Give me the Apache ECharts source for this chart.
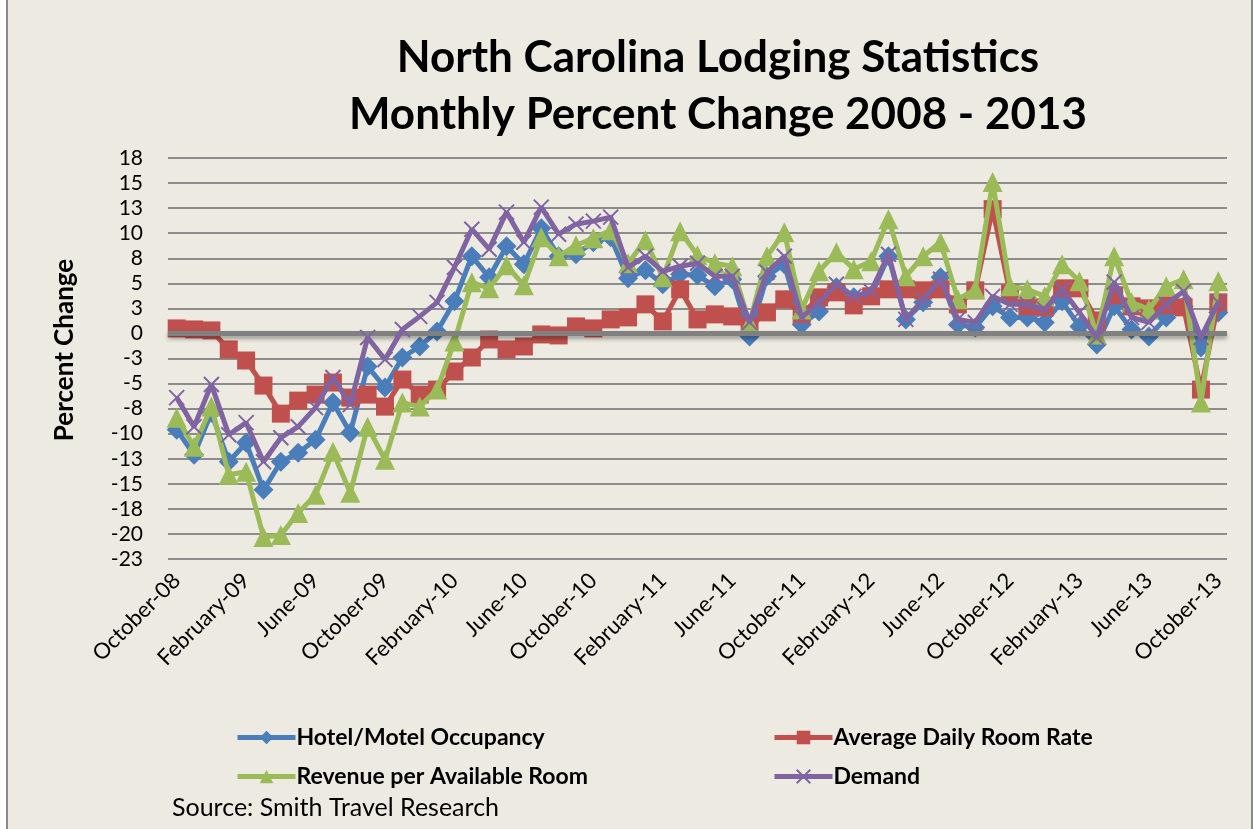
<!DOCTYPE html>
<html>
<head>
<meta charset="utf-8">
<title>North Carolina Lodging Statistics</title>
<script src="https://cdn.jsdelivr.net/npm/echarts@6/dist/echarts.min.js"></script>
<style>
  html, body { margin: 0; padding: 0; background: #ffffff; }
  #main { width: 1259px; height: 829px; }
</style>
</head>
<body>
<div id="main"></div>
<script>
// month labels, October 2008 .. October 2013
var months = [
  'October-08', 'November-08', 'December-08', 'January-09', 'February-09', 'March-09', 'April-09', 'May-09', 'June-09', 'July-09', 'August-09', 'September-09',
  'October-09', 'November-09', 'December-09', 'January-10', 'February-10', 'March-10', 'April-10', 'May-10', 'June-10', 'July-10', 'August-10', 'September-10',
  'October-10', 'November-10', 'December-10', 'January-11', 'February-11', 'March-11', 'April-11', 'May-11', 'June-11', 'July-11', 'August-11', 'September-11',
  'October-11', 'November-11', 'December-11', 'January-12', 'February-12', 'March-12', 'April-12', 'May-12', 'June-12', 'July-12', 'August-12', 'September-12',
  'October-12', 'November-12', 'December-12', 'January-13', 'February-13', 'March-13', 'April-13', 'May-13', 'June-13', 'July-13', 'August-13', 'September-13',
  'October-13'
]

var occupancy = [
  -9.6, -12.1, -7.9, -12.8, -10.9, -15.6, -12.8, -11.9, -10.6, -6.9, -9.9, -3.3,
  -5.4, -2.4, -1.3, 0.2, 3.2, 7.7, 5.6, 8.7, 6.9, 10.5, 7.7, 7.9,
  9.1, 9.6, 5.5, 6.3, 4.9, 5.9, 5.8, 4.7, 5.4, -0.3, 5.7, 6.9,
  0.9, 2.2, 4.6, 3.6, 3.8, 7.7, 1.4, 3.1, 5.6, 0.9, 0.6, 2.7,
  1.6, 1.6, 1.1, 3.2, 0.7, -1.1, 2.7, 0.4, -0.3, 1.6, 2.7, -1.4,
  2.1
]

var roomRate = [
  0.5, 0.4, 0.3, -1.6, -2.7, -5.2, -8.0, -6.7, -6.1, -4.9, -6.4, -6.1,
  -7.3, -4.6, -6.1, -5.6, -3.8, -2.4, -0.6, -1.6, -1.3, -0.1, -0.2, 0.7,
  0.5, 1.4, 1.6, 2.9, 1.2, 4.4, 1.4, 1.9, 1.7, 0.7, 2.1, 3.4,
  1.9, 3.6, 4.1, 2.8, 3.7, 4.4, 4.4, 4.3, 4.4, 2.9, 4.3, 12.4,
  4.0, 2.7, 2.6, 4.5, 4.5, 1.3, 3.8, 2.7, 2.5, 2.8, 2.6, -5.6,
  3.1
]

var revpar = [
  -8.4, -11.3, -7.3, -14.1, -13.8, -20.3, -20.1, -17.9, -16.1, -11.8, -15.9, -9.3,
  -12.6, -6.9, -7.3, -5.6, -0.8, 5.1, 4.5, 6.8, 4.8, 9.6, 7.7, 8.8,
  9.5, 10.3, 7.0, 9.3, 5.6, 10.2, 7.8, 7.0, 6.7, 1.0, 7.7, 10.1,
  2.4, 6.2, 8.1, 6.4, 7.2, 11.4, 5.7, 7.7, 9.1, 3.4, 4.4, 15.1,
  4.7, 4.4, 3.7, 6.9, 5.2, -0.1, 7.7, 3.1, 2.4, 4.7, 5.4, -6.9,
  5.2
]

var demand = [
  -6.4, -9.3, -5.1, -10.1, -8.9, -12.8, -10.4, -9.3, -7.4, -4.4, -7.1, -0.4,
  -2.6, 0.4, 1.7, 3.1, 6.6, 10.4, 8.4, 12.1, 9.1, 12.6, 9.9, 10.9,
  11.2, 11.6, 6.6, 7.7, 6.2, 6.7, 7.0, 5.7, 5.7, 1.1, 6.1, 7.7,
  1.6, 3.1, 4.9, 3.7, 4.2, 7.9, 1.4, 3.4, 5.4, 1.4, 1.1, 3.7,
  2.9, 2.9, 2.4, 4.4, 2.1, -0.4, 5.1, 1.6, 1.1, 2.9, 4.2, -0.4,
  3.1
]

var FONT = 'Lato, "Open Sans", sans-serif'
var BG = '#EDEBE1'

// excel style rounding for the axis labels (17.5 -> 18, -2.5 -> -3)
function roundLabel(v) {
  return String(Math.sign(v) * Math.round(Math.abs(v)))
}

function lineSeries(name, data, color, symbol, size, extra) {
  var s = {
    name: name,
    type: 'line',
    data: data,
    color: color,
    symbol: symbol,
    symbolSize: size,
    showAllSymbol: true,
    lineStyle: { width: 5, color: color },
    itemStyle: { color: color },
    emphasis: { disabled: true },
    animation: false
  }
  if (extra) {
    for (var k in extra) s[k] = extra[k]
  }
  return s
}

function legendAt(name, left, top) {
  return {
    data: [name],
    left: left,
    top: top,
    itemWidth: 58,
    itemHeight: 17,
    itemGap: 4,
    selectedMode: false,
    lineStyle: { width: 5 },
    textStyle: { fontFamily: FONT, fontWeight: 'bold', fontSize: 23, color: '#000', padding: [0, 0, 0, -4] }
  }
}

var chart = echarts.init(document.getElementById('main'))

var option = {
  backgroundColor: BG,
  animation: false,
  graphic: [
    // white margins and the chart frame
    { type: 'rect', shape: { x: 0, y: 0, width: 6, height: 829 }, style: { fill: '#ffffff' } },
    { type: 'rect', shape: { x: 1253, y: 0, width: 6, height: 829 }, style: { fill: '#ffffff' } },
    { type: 'rect', shape: { x: 6, y: 0, width: 2, height: 829 }, style: { fill: '#8a8a8a' } },
    { type: 'rect', shape: { x: 1251, y: 0, width: 2, height: 829 }, style: { fill: '#8a8a8a' } },
    {
      type: 'text', x: 718, y: 58,
      style: { text: 'North Carolina Lodging Statistics', font: 'bold 44px ' + FONT, fill: '#000', textAlign: 'center', textVerticalAlign: 'middle' }
    },
    {
      type: 'text', x: 718, y: 115,
      style: { text: 'Monthly Percent Change 2008 - 2013', font: 'bold 44px ' + FONT, fill: '#000', textAlign: 'center', textVerticalAlign: 'middle' }
    },
    {
      type: 'text', x: 65, y: 350, rotation: Math.PI / 2,
      style: { text: 'Percent Change', font: 'bold 26px ' + FONT, fill: '#000', textAlign: 'center', textVerticalAlign: 'middle' }
    },
    {
      type: 'text', x: 172, y: 808,
      style: { text: 'Source: Smith Travel Research', font: '25px ' + FONT, fill: '#000', textAlign: 'left', textVerticalAlign: 'middle' }
    }
  ],
  legend: [
    legendAt('Hotel/Motel Occupancy', 230, 721),
    legendAt('Average Daily Room Rate', 767, 721),
    legendAt('Revenue per Available Room', 230, 760),
    legendAt('Demand', 767, 760)
  ],
  grid: { left: 168, right: 32, top: 158, bottom: 270, containLabel: false },
  xAxis: {
    type: 'category',
    data: months,
    boundaryGap: true,
    axisLine: { show: false },
    axisTick: { show: false },
    splitLine: { show: false },
    axisLabel: {
      interval: 3,
      rotate: 45,
      margin: 18,
      fontFamily: FONT,
      fontSize: 22,
      color: '#000'
    }
  },
  yAxis: {
    type: 'value',
    min: -22.5,
    max: 17.5,
    interval: 2.5,
    axisLine: { show: false },
    axisTick: { show: false },
    axisLabel: { formatter: roundLabel, margin: 25, fontFamily: FONT, fontSize: 21, color: '#000' },
    splitLine: { lineStyle: { color: '#8c8c8c', width: 2 } }
  },
  series: [
    lineSeries('Hotel/Motel Occupancy', occupancy, '#4A7EBB', 'diamond', 20, {
      markLine: {
        silent: true,
        symbol: 'none',
        label: { show: false },
        lineStyle: { color: '#808080', width: 5, type: 'solid', shadowColor: 'rgba(0,0,0,0.35)', shadowBlur: 4, shadowOffsetY: 3 },
        data: [{ yAxis: 0 }]
      },
      z: 2
    }),
    lineSeries('Average Daily Room Rate', roomRate, '#C0504D', 'rect', 18, { z: 3 }),
    lineSeries('Revenue per Available Room', revpar, '#9BBB59', 'triangle', 20, { z: 4 }),
    lineSeries('Demand', demand, '#8064A2', 'path://M0,0L10,10M10,0L0,10', 15, {
      itemStyle: { color: '#8064A2', borderColor: '#8064A2', borderWidth: 2 },
      z: 5
    })
  ]
}

chart.setOption(option)
</script>
</body>
</html>
